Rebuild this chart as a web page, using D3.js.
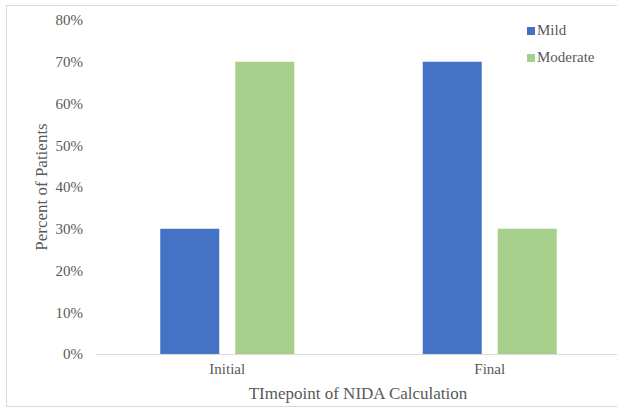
<!DOCTYPE html>
<html><head><meta charset="utf-8">
<script src="https://cdn.jsdelivr.net/npm/d3@7"></script>
<style>body{margin:0;background:#fff}svg text{font-family:'Liberation Serif','Tinos','DejaVu Serif',serif !important;fill:#595959}</style>
</head><body>
<svg id="c" width="617" height="408"></svg>
<script>
const categories = ["Initial", "Final"];
const seriesNames = ["Mild", "Moderate"];
const mild = [30, 70];
const moderate = [70, 30];
const yTicks = [0, 10, 20, 30, 40, 50, 60, 70, 80];
const colors = ["#4472C4", "#A5CF8A"];

const svg = d3.select("#c");
svg.append("rect").attr("x", 6.5).attr("y", 5.5).attr("width", 620).attr("height", 401)
  .attr("fill", "#fff").attr("stroke", "#d9d9d9").attr("stroke-width", 1);

const y = d3.scaleLinear().domain([0, 80]).range([354, 20]);
const x0 = d3.scaleBand().domain(categories).range([96, 621]).paddingInner(0.4895).paddingOuter(0.2448);
const x1 = d3.scaleBand().domain(seriesNames).range([0, x0.bandwidth()]).paddingInner(0.2133);
const color = d3.scaleOrdinal().domain(seriesNames).range(colors);
const values = {Mild: mild, Moderate: moderate};

const g = svg.append("g");
categories.forEach((c, i) => {
  seriesNames.forEach(s => {
    g.append("rect")
      .attr("x", x0(c) + x1(s)).attr("width", x1.bandwidth())
      .attr("y", y(values[s][i])).attr("height", y(0) - y(values[s][i]))
      .attr("fill", color(s));
  });
});

// baseline
svg.append("line").attr("x1", 96).attr("x2", 617).attr("y1", y(0) + 0.5).attr("y2", y(0) + 0.5)
  .attr("stroke", "#d9d9d9").attr("stroke-width", 1);

// y axis
const yAxis = svg.append("g").attr("transform", "translate(83,0)")
  .call(d3.axisLeft(y).tickValues(yTicks).tickFormat(d => d + "%").tickSize(0).tickPadding(0));
yAxis.attr("font-family", null);
yAxis.select(".domain").remove();
yAxis.selectAll("text").style("font-size", "15px").attr("fill", "#595959");

// x axis
const xAxis = svg.append("g").attr("transform", `translate(0,${y(0)})`)
  .call(d3.axisBottom(x0).tickSize(0).tickPadding(9));
xAxis.attr("font-family", null);
xAxis.select(".domain").remove();
xAxis.selectAll("text").style("font-size", "15px").attr("fill", "#595959");

// titles
svg.append("text").attr("x", 358).attr("y", 399).attr("text-anchor", "middle")
  .style("font-size", "17px").text("TImepoint of NIDA Calculation");
svg.append("text").attr("transform", `translate(47,${(y(0) + y(80)) / 2}) rotate(-90)`)
  .attr("text-anchor", "middle").style("font-size", "17px").text("Percent of Patients");

// legend
const leg = svg.append("g");
seriesNames.forEach((s, i) => {
  const ly = 27 + i * 27;
  leg.append("rect").attr("x", 527).attr("y", ly).attr("width", 8).attr("height", 8).attr("fill", color(s));
  leg.append("text").attr("x", 537).attr("y", ly + 8).style("font-size", "15px").text(s);
});
</script>
</body></html>
